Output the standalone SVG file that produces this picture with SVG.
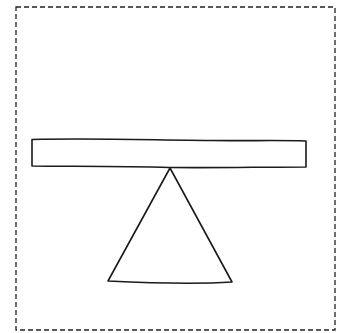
<svg xmlns="http://www.w3.org/2000/svg" width="339" height="333" viewBox="0 0 339 333">
<style>
.s{fill:none;stroke:#1a1a1a;stroke-width:1.6;stroke-linejoin:round;stroke-linecap:round}
.b{fill:none;stroke:#222;stroke-width:1.3;stroke-dasharray:5,3}
</style>
<rect x="0" y="0" width="339" height="333" fill="#fff"/>
<rect class="b" x="16" y="7" width="319" height="323"/>
<g id="beam">
<path class="s" d="M32,139.5 C90,138 150,140 210,140.5 C250,141 280,140 306,141 L306,167 C260,167 220,168 170,167.5 C120,166 70,166.5 32,166 Z"/>
</g>
<g id="fulcrum">
<path class="s" d="M170,168 L108,281 C150,283 200,284 232,282 Z"/>
</g>
</svg>
